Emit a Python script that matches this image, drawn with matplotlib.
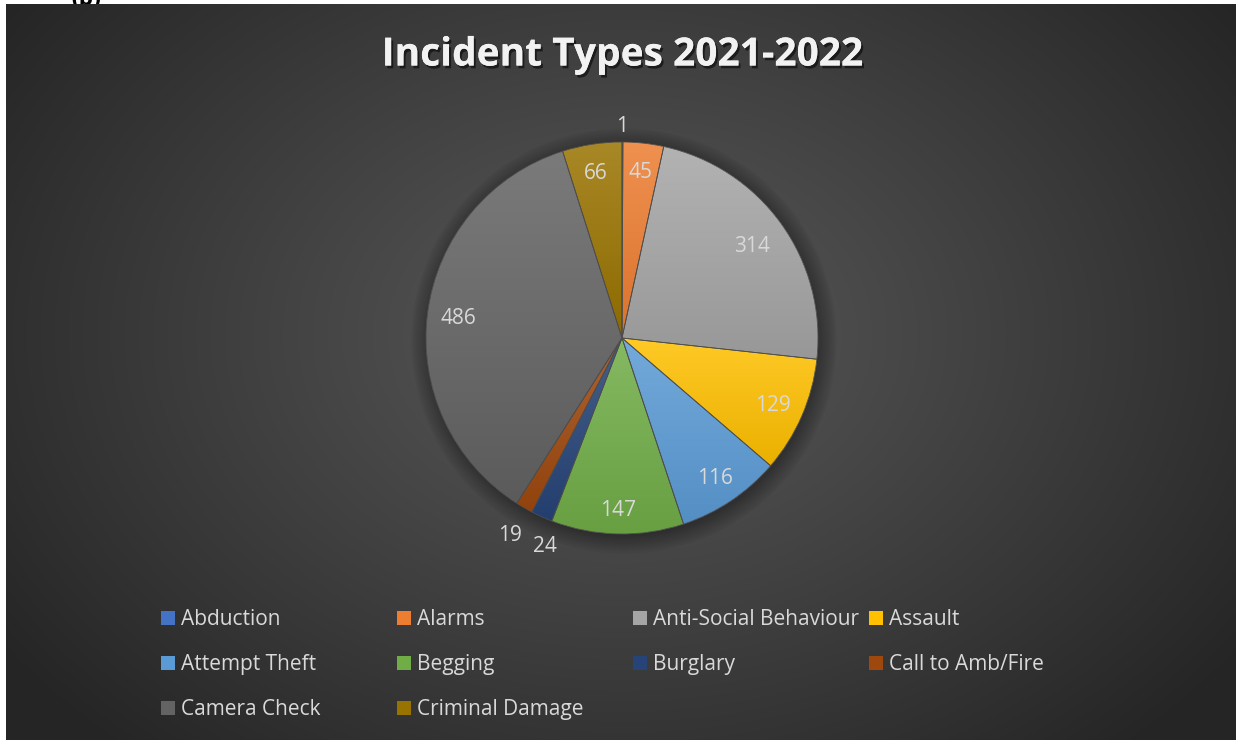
import numpy as np
import matplotlib
matplotlib.use("Agg")
import matplotlib.pyplot as plt
from matplotlib import patheffects
from matplotlib.colors import to_rgb
from matplotlib.patches import Rectangle, Circle

categories = ['Abduction', 'Alarms', 'Anti-Social Behaviour', 'Assault', 'Attempt Theft',
              'Begging', 'Burglary', 'Call to Amb/Fire', 'Camera Check', 'Criminal Damage']
counts = [1, 45, 314, 129, 116, 147, 24, 19, 486, 66]
colors = ['#4472C4', '#ED7D31', '#A5A5A5', '#FFC000', '#5B9BD5',
          '#70AD47', '#264478', '#9E480E', '#636363', '#997300']
# where each data label sits: fraction of radius, and a small turn (deg, clockwise) off mid-slice
label_dist = [1.09, 0.86, 0.82, 0.84, 0.85, 0.87, 1.125, 1.15, 0.84, 0.86]
label_turn = [0, 0, 0, 0, 0, 0, -3.6, 0, 0, 0]
title = 'Incident Types 2021-2022'

W, H = 1236, 740
fig = plt.figure(figsize=(W / 100, H / 100), dpi=100, facecolor='white')

# cut-off panel letter above the chart
fig.text(86 / W, 1.0, '(b)', ha='center', va='center', fontsize=14,
         fontweight='bold', color='black', zorder=-5)

# dark radial gradient background
bg = fig.add_axes([6 / W, 0, (W - 6) / W, (H - 4) / H], zorder=0)
yy, xx = np.mgrid[0:736, 0:1230]
d = np.sqrt(((xx - 616) / 760.0) ** 2 + ((yy - 330) / 560.0) ** 2)
d = np.clip(d, 0, 1) ** 1.1
c0 = np.array([0x58] * 3) / 255
c1 = np.array([0x25] * 3) / 255
img = c0 + (c1 - c0) * d[..., None]
bg.imshow(img, aspect='auto', interpolation='bilinear')
bg.axis('off')

# pie axes: centre (622, 338) px, radius 196 px
cx, cy, R, L = 622, 338, 196, 1.3
ax = fig.add_axes([(cx - L * R) / W, (H - cy - L * R) / H, 2 * L * R / W, 2 * L * R / H], zorder=1)
ax.patch.set_alpha(0)

# soft shadow round the pie
for k in range(8):
    ax.add_patch(Circle((0.01, -0.015), 1.0 + 0.012 * k, color='black', alpha=0.045, zorder=0.5, lw=0))

wedges, _ = ax.pie(counts, colors=colors, startangle=90, counterclock=False, radius=1,
                   wedgeprops=dict(linewidth=0))

# vertical gradient fill for each slice
for w, c in zip(wedges, colors):
    rgb = np.array(to_rgb(c))
    top = rgb + (1 - rgb) * 0.15
    bot = rgb * 0.92
    t = np.linspace(0, 1, 100)[:, None, None]
    grad = top + (bot - top) * t
    bb = w.get_path().get_extents()
    im = ax.imshow(grad, extent=[bb.x0, bb.x1, bb.y0, bb.y1], aspect='auto',
                   interpolation='bilinear', zorder=2)
    im.set_clip_path(w)

ax.pie(counts, startangle=90, counterclock=False, radius=1,
       wedgeprops=dict(fill=False, edgecolor='#4d4d4d', linewidth=0.6, zorder=3))

# data labels, baseline set about half a digit height below the anchor point
total = float(sum(counts))
cum = np.cumsum(counts) - np.array(counts) / 2.0
for v, m, dist, turn in zip(counts, cum, label_dist, label_turn):
    th = np.deg2rad(90 - 360 * m / total - turn)
    ax.text(dist * np.cos(th), dist * np.sin(th) - 7.5 / R, str(v), ha='center', va='baseline',
            fontsize=15, color='#D9D9D9', family='Open Sans', zorder=5)

ax.set_xlim(-L, L)
ax.set_ylim(-L, L)
ax.set_aspect('auto')
ax.axis('off')

# title with drop shadow
fig.text(622 / W, 1 - 55 / H, title, ha='center', va='center', fontsize=28,
         fontweight='bold', family='Open Sans', color='#F2F2F2', zorder=5,
         path_effects=[patheffects.withSimplePatchShadow(offset=(1.5, -2), shadow_rgbFace='black', alpha=0.55),
                       patheffects.Normal()])

# legend, Excel style: fixed column width, filled row by row
row_y = [618, 663, 708]
col_x0, col_w = 161, 236
for i, (name, c) in enumerate(zip(categories, colors)):
    r, k = divmod(i, 4)
    x = col_x0 + k * col_w
    y = row_y[r]
    fig.patches.append(Rectangle((x / W, 1 - (y + 7) / H), 14 / W, 14 / H, transform=fig.transFigure,
                                 facecolor=c, edgecolor='none', zorder=5))
    fig.text((x + 20) / W, 1 - (y + 7) / H, name, ha='left', va='baseline', fontsize=15,
             family='Open Sans', color='#D9D9D9', zorder=5)

fig.savefig('out.png', dpi=100, facecolor='white')
